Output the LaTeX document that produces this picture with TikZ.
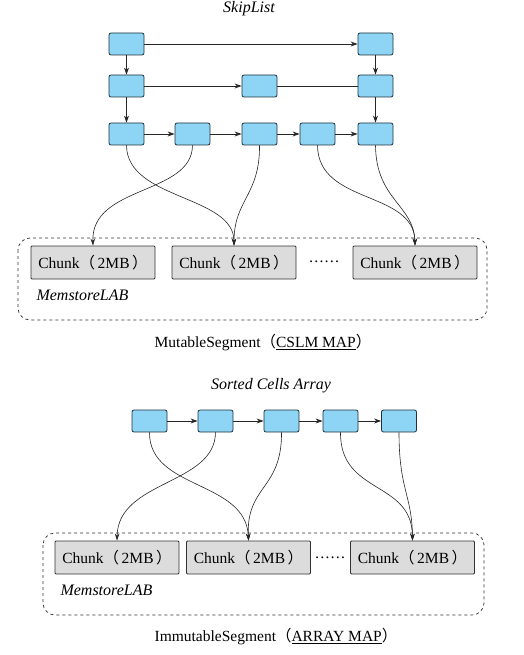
\documentclass[tikz,border=0pt]{standalone}
\usepackage{fontspec}
\setmainfont{Liberation Serif}
\newfontfamily\cjk{Noto Sans CJK SC}
\usetikzlibrary{arrows.meta}
\definecolor{cellblue}{RGB}{142,212,245}
\definecolor{celledge}{RGB}{30,50,60}
\definecolor{chunkgray}{RGB}{220,220,220}
\tikzset{
  cell/.style={draw=celledge,fill=cellblue,rounded corners=2pt,minimum width=35pt,minimum height=22pt,inner sep=0pt,line width=0.8pt},
  chunkbox/.style={draw=black!80,fill=chunkgray,rounded corners=1pt,minimum width=124pt,minimum height=33pt,inner sep=0pt,line width=0.8pt,font=\fontsize{15.5}{18}\selectfont},
  lab/.style={font=\fontsize{15.5}{18}\selectfont},
  itlab/.style={font=\fontsize{16}{18}\selectfont\itshape},
  arr/.style={-{Stealth[length=7pt,width=5pt]},line width=0.8pt,black!85},
  link/.style={line width=0.8pt,black!85},
  carr/.style={-{Stealth[length=7pt,width=4.5pt]},line width=0.6pt,black!85},
  dashbox/.style={draw=black!80,dashed,rounded corners=12pt,line width=0.7pt}
}
\newcommand{\chunktext}{Chunk{\cjk （}\,2MB\,{\cjk ）}}
\begin{document}
\begin{tikzpicture}[x=1pt,y=-1pt]
\useasboundingbox (0,0) rectangle (523,655);
% ---------- top: SkipList ----------
\node[itlab] (t1) at (249,9) {SkipList};
\node[cell] (r1a) at (126.5,44) {};
\node[cell] (r1e) at (375.5,44) {};
\node[cell] (r2a) at (126.5,86) {};
\node[cell] (r2c) at (259.5,86) {};
\node[cell] (r2e) at (375.5,86) {};
\node[cell] (r3a) at (126.5,134) {};
\node[cell] (r3b) at (192.5,134) {};
\node[cell] (r3c) at (259.5,134) {};
\node[cell] (r3d) at (317.5,134) {};
\node[cell] (r3e) at (375.5,134) {};
\draw[arr] (r1a) -- (r1e);
\draw[arr] (r2a) -- (r2c);
\draw[link] (r2c) -- (r2e);
\draw[arr] (r1a) -- (r2a);
\draw[arr] (r2a) -- (r3a);
\draw[arr] (r1e) -- (r2e);
\draw[arr] (r2e) -- (r3e);
\draw[arr] (r3a) -- (r3b);
\draw[arr] (r3b) -- (r3c);
\draw[arr] (r3c) -- (r3d);
\draw[arr] (r3d) -- (r3e);
\draw[dashbox] (18,238) rectangle (487,320);
\node[chunkbox] (c1) at (93,262.5) {\chunktext};
\node[chunkbox] (c2) at (234,262.5) {\chunktext};
\node[chunkbox] (c3) at (415,262.5) {\chunktext};
\node[lab] (d1) at (324,262) {……};
\node[itlab,anchor=west] (m1) at (33,295) {MemstoreLAB};
\node[lab] (s1) at (263,343) {MutableSegment{\cjk （}\underline{CSLM MAP}{\cjk ）}};
\draw[carr] (r3a.south) .. controls (127,200) and (234,195) .. (c2.north);
\draw[carr] (r3b.south) .. controls (192,195) and (91,185) .. (c1.north);
\draw[carr] (r3c.south) .. controls (260,195) and (234,200) .. (c2.north);
\draw[carr] (r3d.south) .. controls (318,205) and (414,190) .. (c3.north);
\draw[carr] (r3e.south) .. controls (376,200) and (414,205) .. (c3.north);
% ---------- bottom: Sorted Cells Array ----------
\node[itlab] (t2) at (271,386) {Sorted Cells Array};
\node[cell] (b1) at (149.5,421) {};
\node[cell] (b2) at (215.5,421) {};
\node[cell] (b3) at (281.5,421) {};
\node[cell] (b4) at (340.5,421) {};
\node[cell] (b5) at (399,421) {};
\draw[arr] (b1) -- (b2);
\draw[arr] (b2) -- (b3);
\draw[arr] (b3) -- (b4);
\draw[arr] (b4) -- (b5);
\draw[dashbox] (43,533) rectangle (484,615);
\node[chunkbox] (k1) at (117,557.5) {\chunktext};
\node[chunkbox] (k2) at (248.5,557.5) {\chunktext};
\node[chunkbox] (k3) at (412.5,557.5) {\chunktext};
\node[lab] (d2) at (330,558) {……};
\node[itlab,anchor=west] (m2) at (57,590) {MemstoreLAB};
\node[lab] (s2) at (276,637) {ImmutableSegment{\cjk （}\underline{ARRAY MAP}{\cjk ）}};
\draw[carr] (b1.south) .. controls (149,490) and (246,480) .. (k2.north);
\draw[carr] (b2.south) .. controls (215,485) and (118,480) .. (k1.north);
\draw[carr] (b3.south) .. controls (282,490) and (246,485) .. (k2.north);
\draw[carr] (b4.south) .. controls (340,495) and (412,480) .. (k3.north);
\draw[carr] (b5.south) .. controls (399,490) and (412,495) .. (k3.north);
\end{tikzpicture}
\end{document}
